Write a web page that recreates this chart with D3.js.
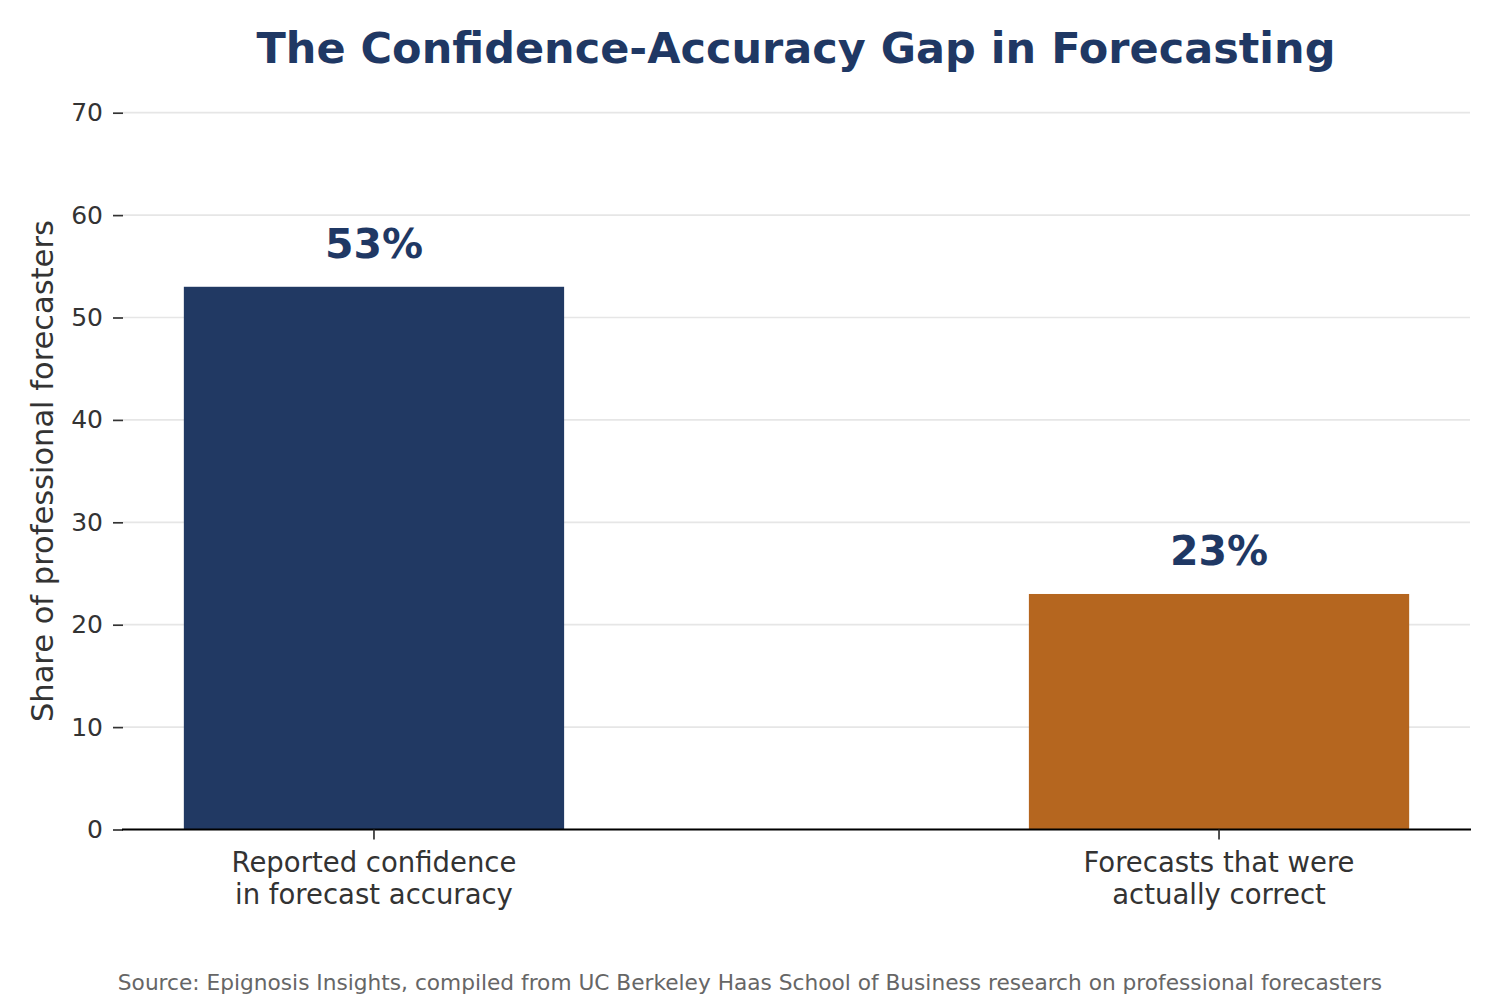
<!DOCTYPE html>
<html>
<head>
<meta charset="utf-8">
<script src="https://cdn.jsdelivr.net/npm/d3@7"></script>
<style>
  body { margin: 0; background: #fff; }
  svg { font-family: "DejaVu Sans", sans-serif; }
</style>
</head>
<body>
<div id="chart"></div>
<script>
// data
const categories = [["Reported confidence", "in forecast accuracy"], ["Forecasts that were", "actually correct"]];
const values = [53, 23];
const barColors = ["#213963", "#b5661f"];
const yTicks = [0, 10, 20, 30, 40, 50, 60, 70];

const width = 1500, height = 1000;
const plotL = 123, plotR = 1470, plotT = 112.7, plotB = 829.5;

const svg = d3.select("#chart").append("svg")
    .attr("width", width)
    .attr("height", height);

const x = d3.scaleLinear().domain([-0.297, 1.297]).range([plotL, plotR]);
const y = d3.scaleLinear().domain([0, 70]).range([plotB, plotT]);
const barW = x(0.45) - x(0);

// grid
svg.append("g")
    .selectAll("line")
    .data(yTicks)
    .enter()
    .append("line")
    .attr("x1", plotL)
    .attr("x2", plotR)
    .attr("y1", d => y(d))
    .attr("y2", d => y(d))
    .attr("stroke", "#e6e6e6")
    .attr("stroke-width", 1.7);

// y axis (no spine)
const yAxis = svg.append("g")
    .attr("transform", `translate(${plotL},0)`)
    .call(d3.axisLeft(y).tickValues(yTicks).tickSize(10).tickPadding(10));
yAxis.select(".domain").remove();
yAxis.selectAll("line").attr("stroke", "#333").attr("stroke-width", 1.7);
yAxis.selectAll("text")
    .attr("fill", "#333")
    .style("font-size", "25px")
    .style("font-family", "DejaVu Sans");

// bars
svg.append("g")
    .selectAll("rect")
    .data(values)
    .enter()
    .append("rect")
    .attr("x", (d, i) => x(i) - barW / 2)
    .attr("y", d => y(d))
    .attr("width", barW)
    .attr("height", d => y(0) - y(d))
    .attr("fill", (d, i) => barColors[i]);

// value labels
svg.append("g")
    .selectAll("text")
    .data(values)
    .enter()
    .append("text")
    .attr("x", (d, i) => x(i))
    .attr("y", d => y(d) - 29)
    .attr("text-anchor", "middle")
    .attr("fill", "#1f3864")
    .style("font-size", "41px")
    .style("font-weight", "bold")
    .text(d => `${d}%`);

// x axis
const xAxis = svg.append("g")
    .attr("transform", `translate(0,${plotB})`);
xAxis.append("line")
    .attr("x1", plotL - 1)
    .attr("x2", plotR + 1)
    .attr("stroke", "#000")
    .attr("stroke-width", 2);
const xt = xAxis.selectAll(".xtick")
    .data(categories)
    .enter()
    .append("g")
    .attr("transform", (d, i) => `translate(${x(i)},0)`);
xt.append("line")
    .attr("y2", 10)
    .attr("stroke", "#333")
    .attr("stroke-width", 1.7);
xt.append("text")
    .attr("text-anchor", "middle")
    .attr("fill", "#333")
    .style("font-size", "27.5px")
    .selectAll("tspan")
    .data(d => d)
    .enter()
    .append("tspan")
    .attr("x", 0)
    .attr("y", (d, i) => 42.5 + i * 32)
    .text(d => d);

// y label
svg.append("text")
    .attr("transform", `translate(53,${(plotT + plotB) / 2}) rotate(-90)`)
    .attr("text-anchor", "middle")
    .attr("fill", "#333")
    .style("font-size", "30.5px")
    .text("Share of professional forecasters");

// title
svg.append("text")
    .attr("x", 796)
    .attr("y", 63)
    .attr("text-anchor", "middle")
    .attr("fill", "#1f3864")
    .style("font-size", "43px")
    .style("font-weight", "bold")
    .text("The Confidence-Accuracy Gap in Forecasting");

// source
svg.append("text")
    .attr("x", 750)
    .attr("y", 990)
    .attr("text-anchor", "middle")
    .attr("fill", "#666")
    .style("font-size", "21.7px")
    .text("Source: Epignosis Insights, compiled from UC Berkeley Haas School of Business research on professional forecasters");
</script>
</body>
</html>
